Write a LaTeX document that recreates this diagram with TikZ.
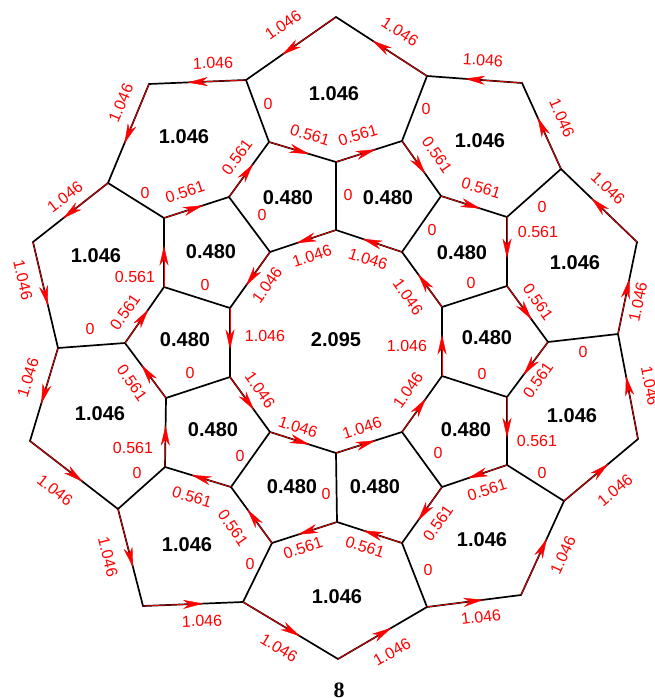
\documentclass[tikz,border=0pt]{standalone}
\usepackage{fontspec}
\setmainfont{Liberation Sans}
\newfontfamily\titlefont{Liberation Serif}
\usetikzlibrary{arrows.meta,decorations.markings,calc}
\begin{document}
\begin{tikzpicture}[x=1pt,y=-1pt,
  edge/.style={draw=black,line width=1.7pt,line cap=round,line join=round},
  flow/.style={postaction={decorate,decoration={markings,mark=at position 0.6 with {\arrow{Stealth[length=20pt,width=9pt,inset=6pt,color=red,line width=0.4pt]}}}}},
  redover/.style={draw=red,line width=0.7pt},
  elabel/.style={text=red,font=\fontsize{16}{16}\selectfont,inner sep=0pt},
  flabel/.style={font=\fontsize{20}{20}\selectfont\bfseries,inner sep=0pt},
  titlelabel/.style={font=\titlefont\fontsize{22}{22}\selectfont\bfseries,inner sep=0pt}]
\useasboundingbox (0,0) rectangle (654,698);
% vertices
\foreach \n/\x/\y in {
  D1/336/230, D2/402/252, D3/442/307, D4/442/376, D5/402/432,
  D6/336/453, D7/270/432, D8/230/377, D9/230/308, D10/270/252,
  m1/336/162, m2/441/196, m3/507/286, m4/507/397, m5/442/487,
  m6/337/522, m7/231/487, m8/166/398, m9/164/287, m10/229/197,
  p1/402/141, p2/507/217, p3/548/342, p4/507/465, p5/402/543,
  p6/272/543, p7/165/467, p8/125/343, p9/164/218, p10/269/142,
  a1/427/76, a2/561/169, a3/618/334, a4/564/501, a5/427/607,
  a6/243/602, a7/118/509, a8/58/348, a9/108/183, a10/246/80,
  b1/522/83, b2/637/242, b3/638/439, b4/521/595, b5/338/659,
  b6/143/606, b7/30/441, b8/33/242, b9/149/84, b10/336/17}
  \coordinate (\n) at (\x,\y);
% zero-weight edges (no arrow)
\foreach \s/\t in {D1/m1, D2/m2, D3/m3, D4/m4, D5/m5, D6/m6, D7/m7, D8/m8, D9/m9, D10/m10,
  p1/a1, p2/a2, p3/a3, p4/a4, p5/a5, p6/a6, p7/a7, p8/a8, p9/a9, p10/a10}
  \draw[edge] (\s) -- (\t);
% directed edges
\foreach \s/\t in {
  D1/D10, D10/D9, D9/D8, D8/D7, D7/D6, D6/D5, D5/D4, D4/D3, D3/D2, D2/D1,
  b10/a10, a10/b9, b9/a9, a9/b8, b8/a8, a8/b7, b7/a7, a7/b6, b6/a6, a6/b5,
  b5/a5, a5/b4, b4/a4, a4/b3, b3/a3, a3/b2, b2/a2, a2/b1, b1/a1, a1/b10,
  m10/p10, p10/m1, m1/p1, p1/m2, m2/p2, p2/m3, m3/p3, p3/m4, m4/p4, p4/m5,
  m5/p5, p5/m6, m6/p6, p6/m7, m7/p7, p7/m8, m8/p8, p8/m9, m9/p9, p9/m10}
  {\draw[edge] (\s) -- (\t);
   \draw[redover] (\s) -- ($(\s)!0.5!(\t)$);
   \path[flow] (\s) -- (\t);}
% edge labels
\foreach \x/\y/\r/\t [count=\i] in {
  312/256/18/1.046, 267/285/55/1.046, 265/336/0/1.046, 260/390/-55/1.046, 298/427/-18/1.046,
  362/428/18/1.046, 408/390/55/1.046, 407/346/0/1.046, 408/297/-55/1.046, 368/259/-18/1.046,
  283/25/35/1.046, 213/63/2/1.046, 121/103/67/1.046, 65/197/38/1.046, 23/280/-77/1.046,
  28/378/73/1.046, 55/490/-38/1.046, 108/557/-76/1.046, 202/621/2/1.046, 279/648/-31/1.046,
  392/652/30/1.046, 481/617/7/1.046, 563/555/65/1.046, 615/490/40/1.046, 650/386/-79/1.046,
  638/302/78/1.046, 608/188/-44/1.046, 562/118/-66/1.046, 483/60/-4/1.046, 400/32/-33/1.046,
  237/157/54/0.561, 310/135/-17/0.561, 358/135/17/0.561, 437/155/-55/0.561, 481/188/-17/0.561,
  538/232/0/0.561, 538/302/-55/0.561, 538/380/55/0.561, 537/441/0/0.561, 487/490/18/0.561,
  438/523/55/0.561, 365/547/-18/0.561, 303/548/18/0.561, 233/528/-55/0.561, 192/497/-17/0.561,
  133/448/0/0.561, 132/383/-55/0.561, 125/312/55/0.561, 135/277/0/0.561, 185/192/18/0.561,
  348/195/0/0, 432/230/0/0, 471/283/0/0, 482/374/0/0, 438/453/0/0,
  326/494/0/0, 240/456/0/0, 190/373/0/0, 205/285/0/0, 262/215/0/0,
  426/109/0/0, 542/207/0/0, 583/352/0/0, 542/473/0/0, 428/570/0/0,
  250/564/0/0, 137/473/0/0, 90/329/0/0, 145/193/0/0, 268/104/0/0}
  \node[elabel,rotate=\r] (e\i) at (\x,\y) {\t};
% face labels
\foreach \x/\y/\t [count=\i] in {
  336/340/2.095,
  288/198/0.480, 388/198/0.480, 462/253/0.480, 487/338/0.480, 466/430/0.480,
  375/487/0.480, 292/487/0.480, 213/430/0.480, 185/340/0.480, 211/252/0.480,
  334/94/1.046, 480/141/1.046, 575/263/1.046, 572/416/1.046, 482/540/1.046,
  337/597/1.046, 187/545/1.046, 100/414/1.046, 96/256/1.046, 184/137/1.046}
  \node[flabel] (f\i) at (\x,\y) {\t};
\node[titlelabel] (title) at (339,690) {8};
\end{tikzpicture}
\end{document}
